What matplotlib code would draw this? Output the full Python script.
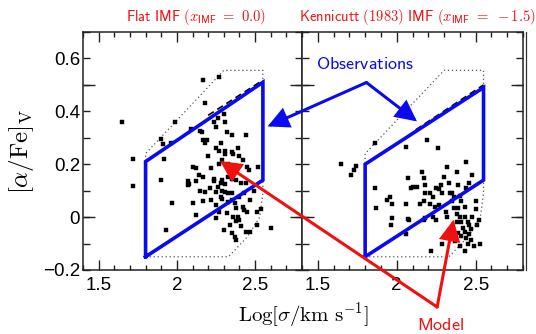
import matplotlib
matplotlib.use("Agg")
import matplotlib.pyplot as plt
from matplotlib.patches import ConnectionPatch
from matplotlib.ticker import MultipleLocator, FixedLocator, FuncFormatter

plt.rcParams["mathtext.fontset"] = "cm"
plt.rcParams["font.family"] = ["Liberation Sans", "DejaVu Sans"]

# ---- galaxies, flat IMF panel ----
flat_logsig = [1.65, 2.17, 2.27, 2.18, 1.90, 1.91, 1.99, 1.96, 2.09, 2.15, 2.16, 2.24, 2.26, 2.30,
               2.25, 2.31, 2.32, 2.35, 2.17, 2.19, 2.18, 2.28, 2.25, 2.27, 2.31, 2.31, 2.39, 2.44,
               2.40, 2.35, 1.72, 1.92, 2.29, 2.33, 2.10, 2.12, 2.22, 2.27, 2.33, 2.38, 2.45, 2.46,
               2.52, 1.90, 1.72, 2.07, 2.08, 2.07, 2.17, 2.24, 2.235, 2.28, 2.29, 2.31, 2.33, 2.35,
               2.38, 2.41, 2.44, 2.26, 2.15, 2.18, 2.25, 2.29, 2.31, 2.33, 2.35, 2.22, 2.17, 2.29,
               2.28, 2.33, 2.35, 2.37, 2.38, 2.42, 2.43, 2.45, 2.51, 2.54, 1.97, 2.10, 2.25, 2.32,
               2.36, 2.39, 2.40, 2.38, 2.12, 2.25, 2.30, 2.35, 2.37, 2.38, 2.44, 2.47, 2.60, 2.51,
               1.93, 2.36, 2.42, 2.20, 2.14, 2.12, 2.21, 2.40, 2.43, 2.47, 2.49, 2.27, 2.41, 2.34]
flat_alpha = [0.36, 0.52, 0.53, 0.43, 0.295, 0.275, 0.36, 0.28, 0.335, 0.325, 0.32, 0.36, 0.375, 0.39,
              0.34, 0.36, 0.32, 0.31, 0.29, 0.29, 0.28, 0.28, 0.26, 0.25, 0.25, 0.24, 0.26, 0.31,
              0.23, 0.245, 0.22, 0.22, 0.215, 0.20, 0.19, 0.185, 0.185, 0.20, 0.195, 0.195, 0.19, 0.18,
              0.19, 0.14, 0.117, 0.12, 0.125, 0.135, 0.15, 0.145, 0.135, 0.13, 0.14, 0.125, 0.15, 0.145,
              0.14, 0.13, 0.13, 0.113, 0.10, 0.095, 0.095, 0.10, 0.095, 0.09, 0.09, 0.065, 0.06, 0.07,
              0.075, 0.057, 0.064, 0.053, 0.035, 0.038, 0.026, 0.019, 0.02, 0.03, 0.053, 0.053, 0.045, 0.015,
              0.0, 0.0, -0.01, -0.015, 0.008, -0.004, -0.05, -0.06, -0.075, -0.085, -0.057, -0.057, -0.04, -0.03,
              -0.05, 0.24, 0.215, 0.23, 0.16, 0.135, 0.11, 0.075, 0.09, 0.065, 0.10, 0.02, -0.035, -0.03]

# ---- galaxies, Kennicutt IMF panel ----
kenn_logsig = [1.86, 2.06, 2.19, 2.26, 1.65, 1.74, 1.73, 1.71, 2.32, 1.86, 1.87, 1.94, 1.955, 1.97,
               2.07, 2.09, 2.06, 1.97, 1.965, 2.07, 2.08, 2.06, 2.16, 2.17, 2.48, 2.10, 2.13, 2.18,
               2.18, 2.21, 2.23, 2.25, 2.27, 2.28, 2.29, 2.33, 2.34, 2.36, 2.15, 2.17, 2.21, 2.24,
               2.27, 2.17, 2.18, 2.23, 2.25, 2.31, 2.32, 2.36, 2.35, 2.40, 2.41, 2.43, 2.38, 2.40,
               2.41, 2.42, 2.43, 2.41, 2.45, 2.46, 2.47, 2.45, 2.49, 2.43, 2.52, 2.51, 2.53, 2.29,
               2.22, 2.38, 2.39, 2.44, 2.46, 2.48, 2.50, 2.44, 2.46, 2.39, 2.30, 2.38, 2.44, 2.35,
               2.37, 2.40, 2.47, 2.50, 2.43, 2.39]
kenn_alpha = [0.28, 0.265, 0.29, 0.26, 0.20, 0.195, 0.18, 0.16, 0.19, 0.11, 0.035, 0.065, 0.075, 0.05,
              0.147, 0.11, 0.05, -0.005, -0.03, -0.008, -0.01, -0.065, 0.17, 0.147, 0.158, 0.113, 0.113, 0.12,
              0.09, 0.09, 0.075, 0.11, 0.105, 0.12, 0.09, 0.13, 0.09, 0.075, 0.05, 0.06, 0.05, 0.04,
              0.045, -0.01, -0.005, 0.0, -0.01, 0.02, 0.0, 0.035, 0.06, 0.08, 0.06, 0.04, 0.01, 0.0,
              -0.02, -0.04, -0.055, -0.07, -0.02, -0.03, -0.045, -0.1, -0.11, -0.13, -0.01, -0.03, -0.1, -0.1,
              -0.13, -0.02, -0.06, -0.08, -0.065, 0.0, 0.03, 0.11, 0.13, 0.12, 0.15, 0.17, 0.21, 0.09,
              -0.09, -0.11, -0.085, 0.06, 0.0, 0.035]

# ---- observed region (blue box) for each panel ----
box_logsig = [1.8, 1.8, 2.55, 2.55, 1.8]
box_flat = [-0.15, 0.21, 0.51, 0.14, -0.15]
box_kenn = [-0.15, 0.20, 0.49, 0.14, -0.15]

# ---- model envelope (dotted) ----
env_logsig = [1.8, 2.33, 2.45, 2.53, 2.55, 2.55, 2.30, 1.8, 1.8]
env_alpha = [-0.15, -0.15, -0.075, 0.0, 0.09, 0.555, 0.555, 0.24, -0.15]

# ---- model track (dashed) ----
track_flat_logsig = [2.20, 2.55]
track_flat_alpha = [0.385, 0.518]
track_kenn_logsig = [2.12, 2.55]
track_kenn_alpha = [0.330, 0.500]

titles = [r"$\mathsf{Flat\ IMF\ (}x_{\mathsf{IMF}}\mathsf{\ =\ 0.0)}$",
          r"$\mathsf{Kennicutt\ (1983)\ IMF\ (}x_{\mathsf{IMF}}\mathsf{\ =\ -1.5)}$"]

# callout anchors (data coordinates)
obs_label_at = (1.80, 0.545)       # right panel
obs_fork = (1.808, 0.509)          # right panel
obs_tip_flat = (2.58, 0.343)       # left panel
obs_tip_kenn = (2.128, 0.362)      # right panel
model_label_at = (2.28, -0.41)     # right panel
model_fork = (2.256, -0.34)        # right panel
model_tip_flat = (2.276, 0.212)    # left panel
model_tip_kenn = (2.36, -0.01)     # right panel

BLUE = "#0a0af0"
RED = "#f01010"

fig = plt.figure(figsize=(5.36, 3.34), dpi=100)
axL = fig.add_axes([83 / 536, 64 / 334, 219 / 536, 238 / 334])
axR = fig.add_axes([302 / 536, 64 / 334, 221 / 536, 238 / 334])


def ylab(v, pos):
    k = v / 0.2
    if abs(k - round(k)) > 1e-6:
        return ""
    if abs(v) < 1e-9:
        return "0"
    return ("%.1f" % v).replace("-", "\u2212")


def xlab(v, pos):
    return ("%g" % round(v, 3))


for ax, ys, box_y, tx, ty, title in [
        (axL, flat_alpha, box_flat, track_flat_logsig, track_flat_alpha, titles[0]),
        (axR, kenn_alpha, box_kenn, track_kenn_logsig, track_kenn_alpha, titles[1])]:
    xs = flat_logsig if ax is axL else kenn_logsig
    ax.plot(env_logsig, env_alpha, ls=(0, (1, 2.2)), color="#555555", lw=0.9, zorder=2)
    ax.plot(tx, ty, ls=(0, (4, 2.5)), color="black", lw=1.2, zorder=3)
    ax.plot(xs, ys, "s", ms=2.6, color="black", mec="black", mew=0.3, zorder=4)
    ax.plot(box_logsig, box_y, color=BLUE, lw=2.6, solid_joinstyle="miter", zorder=5)

    ax.set_xlim(1.4, 2.8)
    ax.set_ylim(-0.2, 0.7)
    ax.xaxis.set_major_locator(MultipleLocator(0.5))
    ax.xaxis.set_minor_locator(MultipleLocator(0.1))
    ax.xaxis.set_major_formatter(FuncFormatter(xlab))
    ax.yaxis.set_major_locator(FixedLocator([-0.2 + 0.1 * i for i in range(10)]))
    ax.yaxis.set_minor_locator(FixedLocator([0.0, 0.5]))
    ax.yaxis.remove_overlapping_locs = False
    ax.yaxis.set_major_formatter(FuncFormatter(ylab))
    ax.tick_params(which="both", direction="in", top=True, right=True, width=1.0, color="#222222")
    ax.tick_params(axis="x", which="major", length=7, pad=5, labelsize=13.5)
    ax.tick_params(axis="x", which="minor", length=3.5)
    ax.tick_params(axis="y", which="major", length=5, pad=2, labelsize=13.5)
    ax.tick_params(axis="y", which="minor", length=8.5)
    for s in ax.spines.values():
        s.set_linewidth(1.1)
        s.set_color("#222222")
    ax.text(0.515 if ax is axL else 0.52, 1.064, title, transform=ax.transAxes,
            ha="center", va="center", color=RED, fontsize=10.5)

axR.tick_params(axis="y", labelleft=False)
axR.plot([1.012, 1.012], [0, 1], transform=axR.transAxes, clip_on=False, color="#333333", lw=0.9)

fig.text(21 / 536, 1 - 151 / 334, r"$[\alpha/\mathrm{Fe}]_\mathrm{V}$", rotation=90,
         ha="center", va="center", fontsize=18)
fig.text(303 / 536, 1 - 315 / 334, r"$\mathrm{Log}[\sigma/\mathrm{km\ s^{-1}}]$",
         ha="center", va="center", fontsize=15)

# callouts
axR.text(*obs_label_at, r"$\mathsf{Observations}$", color=BLUE, fontsize=13,
         ha="center", va="bottom", clip_on=False)
axR.text(*model_label_at, r"$\mathsf{Model}$", color=RED, fontsize=13,
         ha="center", va="center", clip_on=False)

arrowstyle = "-|>,head_length=0.6,head_width=0.3"
for fork, ax_tip, tip, col in [
        (obs_fork, axL, obs_tip_flat, BLUE),
        (obs_fork, axR, obs_tip_kenn, BLUE),
        (model_fork, axL, model_tip_flat, RED),
        (model_fork, axR, model_tip_kenn, RED)]:
    con = ConnectionPatch(xyA=fork, coordsA=axR.transData, xyB=tip, coordsB=ax_tip.transData,
                          arrowstyle=arrowstyle, mutation_scale=20, lw=2.2, color=col,
                          capstyle="round", joinstyle="miter", zorder=10)
    fig.add_artist(con)

fig.savefig("out.png", dpi=100)
